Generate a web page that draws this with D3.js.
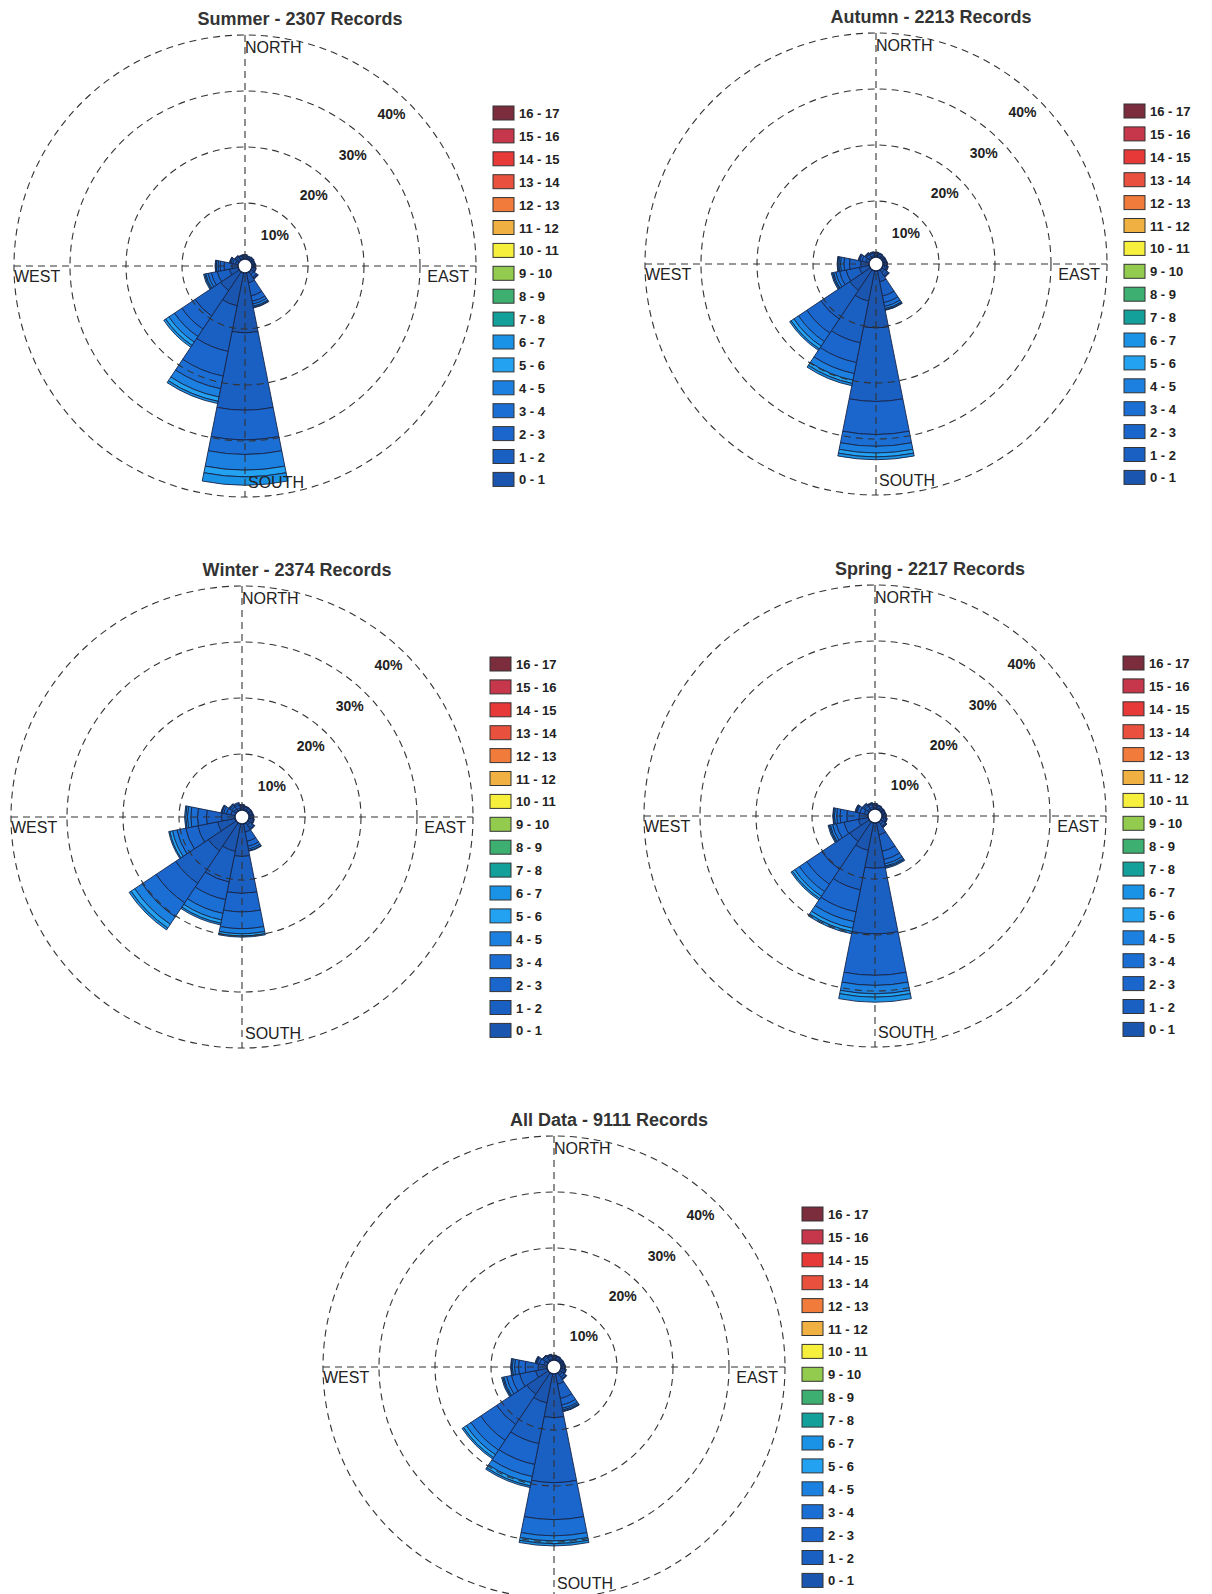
<!DOCTYPE html>
<html>
<head>
<meta charset="utf-8">
<script src="https://cdn.jsdelivr.net/npm/d3@7"></script>
<style>
  body { margin: 0; background: #fff; }
  svg { display: block; font-family: Arial, "Liberation Sans", sans-serif; }
</style>
</head>
<body>
<div id="chart"></div>
<script>
// compass sectors, clockwise from north
const directions = ["N", "NNE", "NE", "ENE", "E", "ESE", "SE", "SSE", "S", "SSW", "SW", "WSW", "W", "WNW", "NW", "NNW"];
const speedBins = ["0 - 1", "1 - 2", "2 - 3", "3 - 4", "4 - 5", "5 - 6", "6 - 7", "7 - 8", "8 - 9",
    "9 - 10", "10 - 11", "11 - 12", "12 - 13", "13 - 14", "14 - 15", "15 - 16", "16 - 17"];
const ringTicks = [10, 20, 30, 40];
const titles = ["Summer - 2307 Records", "Autumn - 2213 Records", "Winter - 2374 Records",
    "Spring - 2217 Records", "All Data - 9111 Records"];

// percent of records per direction, split by speed bin (0-1, 1-2, ... higher bins empty)
const summer = [
    [0.4, 0.3, 0.1], [0.3, 0.2, 0.1], [0.3, 0.2, 0.1, 0.1], [0.3, 0.2, 0.1],
    [0.3, 0.2, 0.1, 0.1], [0.4, 0.3, 0.1], [0.6, 0.6, 0.2, 0.1, 0.1], [1.8, 2.4, 1.0, 0.5, 0.4, 0.2, 0.1],
    [10.7, 13.8, 5.3, 2.6, 2.8, 1.2, 1.5], [6.0, 8.3, 4.5, 2.3, 1.5, 0.8, 0.4], [4.0, 5.5, 2.8, 1.6, 1.2, 0.7, 0.4], [1.6, 2.2, 1.1, 0.6, 0.4, 0.2, 0.2],
    [1.1, 1.4, 0.7, 0.4, 0.3, 0.1, 0.1], [0.5, 0.5, 0.3, 0.2, 0.1], [0.4, 0.3, 0.2, 0.1], [0.3, 0.3, 0.1, 0.1]
];
const autumn = [
    [0.3, 0.3, 0.2, 0.1], [0.3, 0.3, 0.1, 0.1], [0.3, 0.2, 0.1, 0.1], [0.3, 0.2, 0.1, 0.1],
    [0.3, 0.3, 0.1, 0.1], [0.4, 0.3, 0.2, 0.1], [0.6, 0.5, 0.3, 0.1, 0.1], [2.0, 2.6, 1.2, 0.7, 0.4, 0.2, 0.1],
    [10.2, 13.1, 5.9, 2.1, 1.2, 0.7, 0.5], [5.5, 7.6, 3.6, 2.0, 1.2, 0.6, 0.4], [4.4, 6.2, 3.0, 1.8, 1.0, 0.6, 0.3], [1.8, 2.4, 1.2, 0.7, 0.4, 0.2, 0.2],
    [1.5, 2.0, 1.0, 0.6, 0.3, 0.2, 0.1], [0.6, 0.7, 0.4, 0.2, 0.1], [0.4, 0.4, 0.2, 0.1, 0.1], [0.3, 0.4, 0.2, 0.1]
];
const winter = [
    [0.4, 0.3, 0.2, 0.1], [0.3, 0.3, 0.1, 0.1], [0.3, 0.3, 0.1, 0.1], [0.3, 0.3, 0.1, 0.1],
    [0.3, 0.3, 0.2, 0.1], [0.4, 0.3, 0.2, 0.1], [0.5, 0.5, 0.3, 0.1, 0.1], [1.5, 1.7, 0.9, 0.5, 0.3, 0.1],
    [5.8, 6.6, 3.3, 3.0, 0.9, 0.4, 0.2], [5.0, 5.6, 3.2, 2.5, 1.2, 0.6, 0.3], [6.0, 7.0, 4.2, 3.0, 1.6, 0.8, 0.4], [3.2, 3.6, 2.2, 1.6, 0.8, 0.5, 0.2],
    [2.4, 2.7, 1.6, 1.2, 0.6, 0.3, 0.2], [0.8, 0.8, 0.5, 0.3, 0.1, 0.1], [0.5, 0.5, 0.3, 0.2, 0.1], [0.4, 0.5, 0.3, 0.2]
];
const spring = [
    [0.3, 0.4, 0.2, 0.1], [0.3, 0.3, 0.1, 0.1], [0.3, 0.2, 0.1, 0.1], [0.3, 0.2, 0.1, 0.1],
    [0.3, 0.3, 0.1, 0.1], [0.4, 0.3, 0.2, 0.1], [0.5, 0.4, 0.2, 0.1, 0.1], [2.2, 3.0, 1.5, 0.8, 0.4, 0.2, 0.2],
    [8.1, 11.7, 7.4, 1.8, 1.5, 0.6, 0.9], [5.0, 7.2, 4.0, 1.8, 1.2, 0.6, 0.4], [4.2, 6.0, 3.2, 1.6, 1.0, 0.5, 0.3], [1.8, 2.6, 1.4, 0.7, 0.4, 0.2, 0.2],
    [1.6, 2.2, 1.2, 0.6, 0.4, 0.2, 0.1], [0.7, 0.8, 0.5, 0.2, 0.1, 0.1], [0.4, 0.5, 0.3, 0.2, 0.1], [0.4, 0.4, 0.2, 0.1, 0.1]
];
const allData = [
    [0.3, 0.3, 0.2, 0.1], [0.3, 0.3, 0.1, 0.1], [0.3, 0.2, 0.1, 0.1], [0.3, 0.2, 0.1, 0.1],
    [0.3, 0.3, 0.1, 0.1], [0.4, 0.3, 0.2, 0.1], [0.5, 0.5, 0.3, 0.1, 0.1], [1.9, 2.6, 1.2, 0.6, 0.3, 0.2, 0.1],
    [7.8, 11.6, 6.6, 2.9, 0.9, 0.5, 0.4], [5.3, 7.4, 3.8, 2.2, 1.1, 0.6, 0.3], [4.6, 6.5, 3.4, 2.1, 1.0, 0.6, 0.3], [2.1, 2.9, 1.5, 0.9, 0.5, 0.2, 0.2],
    [1.6, 2.3, 1.2, 0.7, 0.4, 0.2, 0.1], [0.6, 0.8, 0.4, 0.2, 0.1, 0.1], [0.4, 0.4, 0.3, 0.1, 0.1], [0.3, 0.4, 0.2, 0.1, 0.1]
];

const binColors = ["#1a56b0", "#1a5fc2", "#1b66cc", "#1b6fd4", "#1c80e0", "#22a2f0", "#1a93e6", "#139f9a",
    "#3db071", "#93cb4f", "#f6ef3c", "#f0b042", "#f07b3a", "#e9503d", "#e73a38", "#c6374b", "#7b2d3e"];

const width = 1212, height = 1594;
const svg = d3.select("#chart").append("svg")
    .attr("width", width)
    .attr("height", height);

const panels = [
    { title: titles[0], data: summer, cx: 245, cy: 266 },
    { title: titles[1], data: autumn, cx: 876, cy: 264 },
    { title: titles[2], data: winter, cx: 242, cy: 817 },
    { title: titles[3], data: spring, cx: 875, cy: 816 },
    { title: titles[4], data: allData, cx: 554, cy: 1367 }
];

const rScale = d3.scaleLinear().domain([0, 40]).range([7, 231]);
const color = d3.scaleOrdinal().domain(speedBins).range(binColors);
const sector = 2 * Math.PI / directions.length;
const gridColor = "#333";

panels.forEach(p => {
    const g = svg.append("g").attr("transform", `translate(${p.cx},${p.cy})`);
    const rMax = rScale(40);

    // stacked wedges
    p.data.forEach((bins, i) => {
        let cum = 0;
        bins.forEach((v, j) => {
            if (!v) return;
            const arc = d3.arc()
                .innerRadius(rScale(cum))
                .outerRadius(rScale(cum + v))
                .startAngle(i * sector - sector / 2)
                .endAngle(i * sector + sector / 2);
            g.append("path")
                .attr("d", arc())
                .attr("fill", color(speedBins[j]))
                .attr("stroke", "#16254a")
                .attr("stroke-width", 0.9);
            cum += v;
        });
    });

    // dashed rings and cross
    g.selectAll(".ring")
        .data(ringTicks)
        .enter()
        .append("circle")
        .attr("r", d => rScale(d))
        .attr("fill", "none")
        .attr("stroke", gridColor)
        .attr("stroke-width", 1.1)
        .attr("stroke-dasharray", "7,5");

    g.append("line").attr("x1", -rMax).attr("x2", rMax).attr("y1", 0).attr("y2", 0)
        .attr("stroke", gridColor).attr("stroke-width", 1.1).attr("stroke-dasharray", "7,5");
    g.append("line").attr("x1", 0).attr("x2", 0).attr("y1", -rMax).attr("y2", rMax)
        .attr("stroke", gridColor).attr("stroke-width", 1.1).attr("stroke-dasharray", "7,5");

    // centre hole
    g.append("circle").attr("r", rScale(0))
        .attr("fill", "#fff").attr("stroke", "#16254a").attr("stroke-width", 1.5);

    // ring labels along the NE diagonal
    const a = 44 * Math.PI / 180;
    g.selectAll(".pct")
        .data(ringTicks)
        .enter()
        .append("text")
        .attr("x", d => (rScale(d) - 20) * Math.sin(a))
        .attr("y", d => -(rScale(d) - 20) * Math.cos(a) + 5)
        .attr("text-anchor", "middle")
        .style("font-size", "14px")
        .style("font-weight", "bold")
        .attr("fill", "#222")
        .text(d => d + "%");

    // compass labels
    const compass = g.append("g").style("font-size", "16px").attr("fill", "#222");
    compass.append("text").attr("x", 0).attr("y", -rMax + 18).text("NORTH");
    compass.append("text").attr("x", 3).attr("y", rMax - 9).text("SOUTH");
    compass.append("text").attr("x", -rMax).attr("y", 16).text("WEST");
    compass.append("text").attr("x", rMax - 7).attr("y", 16).attr("text-anchor", "end").text("EAST");

    // title
    g.append("text")
        .attr("x", 55)
        .attr("y", -241)
        .attr("text-anchor", "middle")
        .style("font-size", "18px")
        .style("font-weight", "bold")
        .attr("fill", "#333")
        .text(p.title);

    // legend, highest bin on top
    const legend = g.append("g").attr("transform", "translate(248,-153)");
    const rows = speedBins.slice().reverse();
    rows.forEach((b, k) => {
        legend.append("rect")
            .attr("x", 0)
            .attr("y", k * 22.9 - 7)
            .attr("width", 21)
            .attr("height", 14)
            .attr("fill", color(b))
            .attr("stroke", "#333")
            .attr("stroke-width", 1);
        legend.append("text")
            .attr("x", 26)
            .attr("y", k * 22.9 + 5)
            .style("font-size", "13px")
            .style("font-weight", "bold")
            .attr("fill", "#222")
            .text(b);
    });
});
</script>
</body>
</html>
